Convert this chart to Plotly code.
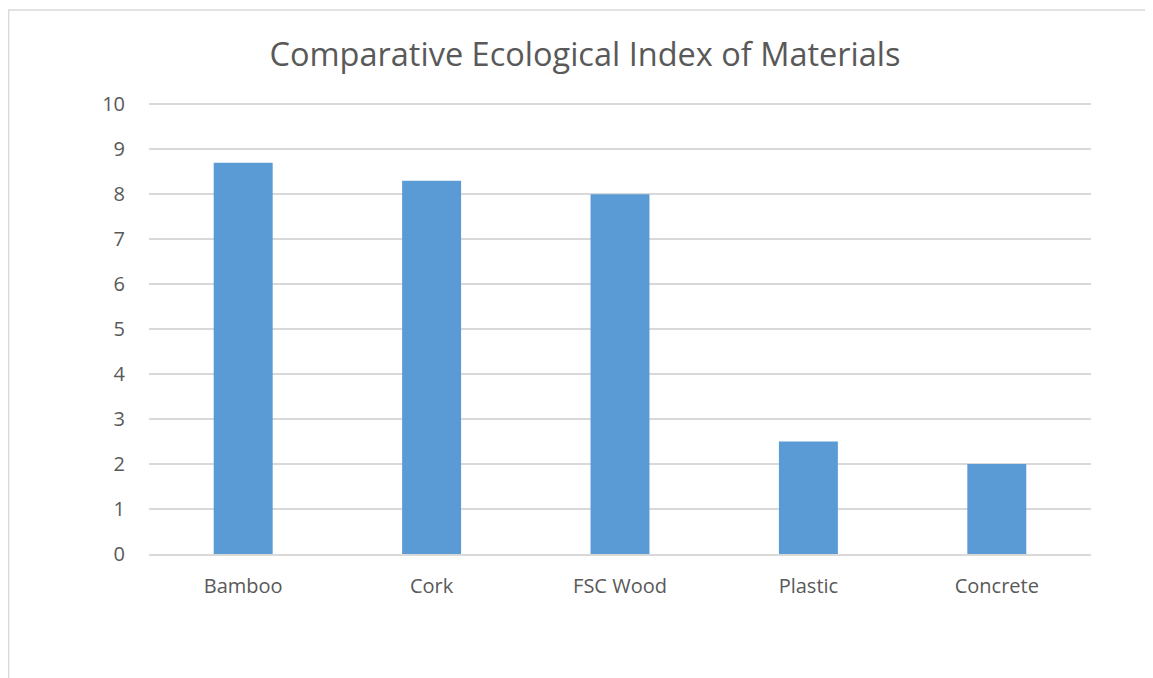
import plotly.graph_objects as go

categories = ["Bamboo", "Cork", "FSC Wood", "Plastic", "Concrete"]
values = [8.7, 8.3, 8.0, 2.5, 2.0]
y_ticks = list(range(0, 11))

# page has an 8px body margin, so the figure is sized/positioned to compensate
W, H = 1145, 670
L, R, T, B = 141, 62, 94, 124

fig = go.Figure(go.Bar(x=categories, y=values, marker=dict(color="#5b9bd5", line=dict(width=0)), width=0.313))

def px_x(p):
    return (p - L) / (W - L - R)

def px_y(p):
    return (H - B - p) / (H - T - B)

# chart-area border (top and left edges visible)
fig.add_shape(type="line", xref="paper", yref="paper", x0=px_x(0), x1=px_x(W), y0=px_y(2), y1=px_y(2),
              line=dict(color="#d9d9d9", width=1.5))
fig.add_shape(type="line", xref="paper", yref="paper", x0=px_x(0.6), x1=px_x(0.6), y0=px_y(2), y1=px_y(H),
              line=dict(color="#d9d9d9", width=1.5))

fig.update_layout(
    width=W, height=H,
    margin=dict(l=L, r=R, t=T, b=B),
    paper_bgcolor="white", plot_bgcolor="white",
    title=dict(text="Comparative Ecological Index of Materials", x=px_x(577), xref="paper", xanchor="center",
               y=1 - 47 / H, yref="container", yanchor="middle",
               font=dict(family="Open Sans", size=32.5, color="#595959")),
    font=dict(family="Open Sans", color="#595959", size=20),
    xaxis=dict(showline=True, linecolor="#d9d9d9", linewidth=1.5, showgrid=False, ticks="",
               tickfont=dict(size=20, color="#595959"), ticklabelstandoff=13),
    yaxis=dict(range=[0, 10.05], tickvals=y_ticks, showgrid=True, gridcolor="#d9d9d9", gridwidth=1.5,
               zeroline=False, showline=False, ticks="", tickfont=dict(size=20, color="#595959"),
               ticklabelstandoff=23),
    showlegend=False,
    bargap=0.687,
)

fig.write_html("out.html")
